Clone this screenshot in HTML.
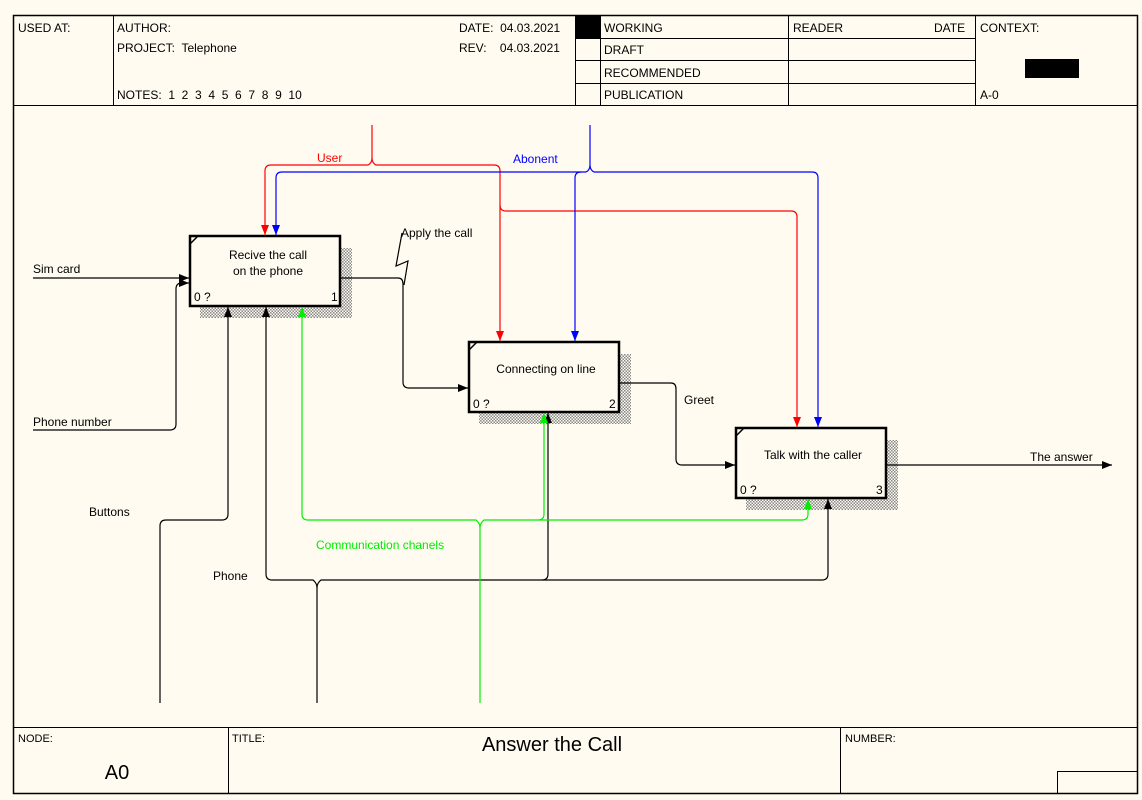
<!DOCTYPE html>
<html><head><meta charset="utf-8"><style>
html,body{margin:0;padding:0;background:#fffbf0;}
svg{display:block;}
text{font-family:"Liberation Sans",Arial,sans-serif;font-size:12px;fill:#000;white-space:pre;}
</style></head><body>
<svg width="1142" height="800" viewBox="0 0 1142 800" xmlns="http://www.w3.org/2000/svg" xml:space="preserve">
<defs>
<pattern id="h" width="3" height="3" patternUnits="userSpaceOnUse">
<rect width="3" height="3" fill="#fffbf0"/><rect width="1.5" height="1.5" fill="#888"/><rect x="1.5" y="1.5" width="1.5" height="1.5" fill="#888"/>
</pattern>
<marker id="ak" markerWidth="10" markerHeight="8" refX="10" refY="4" orient="auto" markerUnits="userSpaceOnUse"><path d="M0,0 L10,4 L0,8 z" fill="#000"/></marker>
<marker id="ar" markerWidth="10" markerHeight="8" refX="10" refY="4" orient="auto" markerUnits="userSpaceOnUse"><path d="M0,0 L10,4 L0,8 z" fill="#f00"/></marker>
<marker id="ab" markerWidth="10" markerHeight="8" refX="10" refY="4" orient="auto" markerUnits="userSpaceOnUse"><path d="M0,0 L10,4 L0,8 z" fill="#00f"/></marker>
<marker id="ag" markerWidth="10" markerHeight="8" refX="10" refY="4" orient="auto" markerUnits="userSpaceOnUse"><path d="M0,0 L10,4 L0,8 z" fill="#0e0"/></marker>
</defs>
<rect x="0" y="0" width="1142" height="800" fill="#fffbf0"/>
<g stroke="#000" fill="none" stroke-width="1">
<rect x="13.5" y="15.5" width="1124" height="778" stroke-width="1.5"/>
<line x1="13" y1="105.5" x2="1137" y2="105.5"/>
<line x1="113.5" y1="15" x2="113.5" y2="105"/>
<line x1="575.5" y1="15" x2="575.5" y2="105"/>
<line x1="600.5" y1="15" x2="600.5" y2="105"/>
<line x1="788.5" y1="15" x2="788.5" y2="105"/>
<line x1="975.5" y1="15" x2="975.5" y2="105"/>
<line x1="575" y1="38.5" x2="975" y2="38.5"/>
<line x1="575" y1="60.5" x2="975" y2="60.5"/>
<line x1="575" y1="83.5" x2="975" y2="83.5"/>
<line x1="13" y1="727.5" x2="1137" y2="727.5"/>
<line x1="228.5" y1="727" x2="228.5" y2="793"/>
<line x1="840.5" y1="727" x2="840.5" y2="793"/>
<rect x="1057.5" y="771.5" width="80" height="22"/>
</g>
<rect x="576" y="16" width="24" height="22" fill="#000"/>
<rect x="1025" y="59" width="54" height="19" fill="#000"/>
<text x="18" y="32">USED AT:</text>
<text x="117" y="32">AUTHOR:</text>
<text x="117" y="52">PROJECT:  Telephone</text>
<text x="117" y="99">NOTES:  1  2  3  4  5  6  7  8  9  10</text>
<text x="459" y="32">DATE:  04.03.2021</text>
<text x="459" y="52">REV:    04.03.2021</text>
<text x="604" y="32">WORKING</text>
<text x="604" y="54">DRAFT</text>
<text x="604" y="77">RECOMMENDED</text>
<text x="604" y="99">PUBLICATION</text>
<text x="793" y="32">READER</text>
<text x="934" y="32">DATE</text>
<text x="980" y="32">CONTEXT:</text>
<text x="980" y="99">A-0</text>
<text x="18" y="742" style="font-size:11px">NODE:</text>
<text x="232" y="742" style="font-size:11px">TITLE:</text>
<text x="845" y="742" style="font-size:11px">NUMBER:</text>
<text x="552" y="751" text-anchor="middle" style="font-size:20px">Answer the Call</text>
<text x="117" y="779" text-anchor="middle" style="font-size:20px">A0</text>

<rect x="200" y="248" width="152" height="70" fill="url(#h)"/>
<rect x="479" y="354" width="152" height="70" fill="url(#h)"/>
<rect x="746" y="440" width="152" height="70" fill="url(#h)"/>
<g stroke="#000" stroke-width="2.5" fill="#fffbf0">
<rect x="190" y="236" width="150" height="70"/>
<rect x="469" y="342" width="150" height="70"/>
<rect x="736" y="428" width="150" height="70"/>
</g>
<g stroke="#000" stroke-width="1.5">
<line x1="190" y1="244" x2="198" y2="236"/>
<line x1="469" y1="350" x2="477" y2="342"/>
<line x1="736" y1="436" x2="744" y2="428"/>
</g>
<text x="268" y="259" text-anchor="middle">Recive the call</text>
<text x="268" y="275" text-anchor="middle">on the phone</text>
<text x="194" y="301">0 ?</text><text x="331" y="301">1</text>
<text x="546" y="373" text-anchor="middle">Connecting on line</text>
<text x="473" y="408">0 ?</text><text x="609" y="408">2</text>
<text x="813" y="459" text-anchor="middle">Talk with the caller</text>
<text x="740" y="494">0 ?</text><text x="876" y="494">3</text>

<g stroke="#000" fill="none" stroke-width="1.2">
<path d="M33,278 H189" marker-end="url(#ak)"/>
<path d="M33,430 H170 Q176,430 176,424 V289 Q176,283 182,283 H189" marker-end="url(#ak)"/>
<path d="M340,278 H398 Q403,278 403,284 V382 Q403,388 409,388 H468" marker-end="url(#ak)"/>
<path d="M402,233 L396,266 L408,261 L404,285"/>
<path d="M619,383 H671 Q676,383 676,389 V459 Q676,465 682,465 H735" marker-end="url(#ak)"/>
<path d="M886,465 H1112" marker-end="url(#ak)"/>
<path d="M160,703 V526 Q160,520 166,520 H222 Q228,520 228,514 V307" marker-end="url(#ak)"/>
<path d="M317,703 V588 Q317,583 313,580 H272 Q266,580 266,574 V307" marker-end="url(#ak)"/>
<path d="M317,588 Q317,583 321,580 H542 Q548,580 548,574 V413" marker-end="url(#ak)"/>
<path d="M542,580 H822 Q828,580 828,574 V499" marker-end="url(#ak)"/>
</g>
<g stroke="#0e0" fill="none" stroke-width="1.2">
<path d="M480,703 V528 Q480,523 476,520 H308 Q302,520 302,514 V307" marker-end="url(#ag)"/>
<path d="M480,528 Q480,523 484,520 H538 Q544,520 544,514 V413" marker-end="url(#ag)"/>
<path d="M538,520 H802 Q808,520 808,514 V499" marker-end="url(#ag)"/>
</g>
<g stroke="#f00" fill="none" stroke-width="1.2">
<path d="M372,125 V158 Q372,163 368,165 H271 Q265,165 265,171 V235" marker-end="url(#ar)"/>
<path d="M372,158 Q372,163 376,165 H494 Q500,165 500,171 V341" marker-end="url(#ar)"/>
<path d="M500,205 Q500,211 506,211 H791 Q797,211 797,217 V427" marker-end="url(#ar)"/>
</g>
<g stroke="#00f" fill="none" stroke-width="1.2">
<path d="M590,125 V165 Q590,170 586,172 H282 Q276,172 276,178 V235" marker-end="url(#ab)"/>
<path d="M581,172 Q575,172 575,178 V341" marker-end="url(#ab)"/>
<path d="M590,165 Q590,170 594,172 H812 Q818,172 818,178 V427" marker-end="url(#ab)"/>
</g>
<text x="33" y="273">Sim card</text>
<text x="33" y="426">Phone number</text>
<text x="401" y="237">Apply the call</text>
<text x="684" y="404">Greet</text>
<text x="1030" y="461">The answer</text>
<text x="89" y="516">Buttons</text>
<text x="213" y="580">Phone</text>
<text x="316" y="549" style="fill:#0e0">Communication chanels</text>
<text x="317" y="162" style="fill:#f00">User</text>
<text x="513" y="163" style="fill:#00f">Abonent</text>
</svg>
</body></html>
